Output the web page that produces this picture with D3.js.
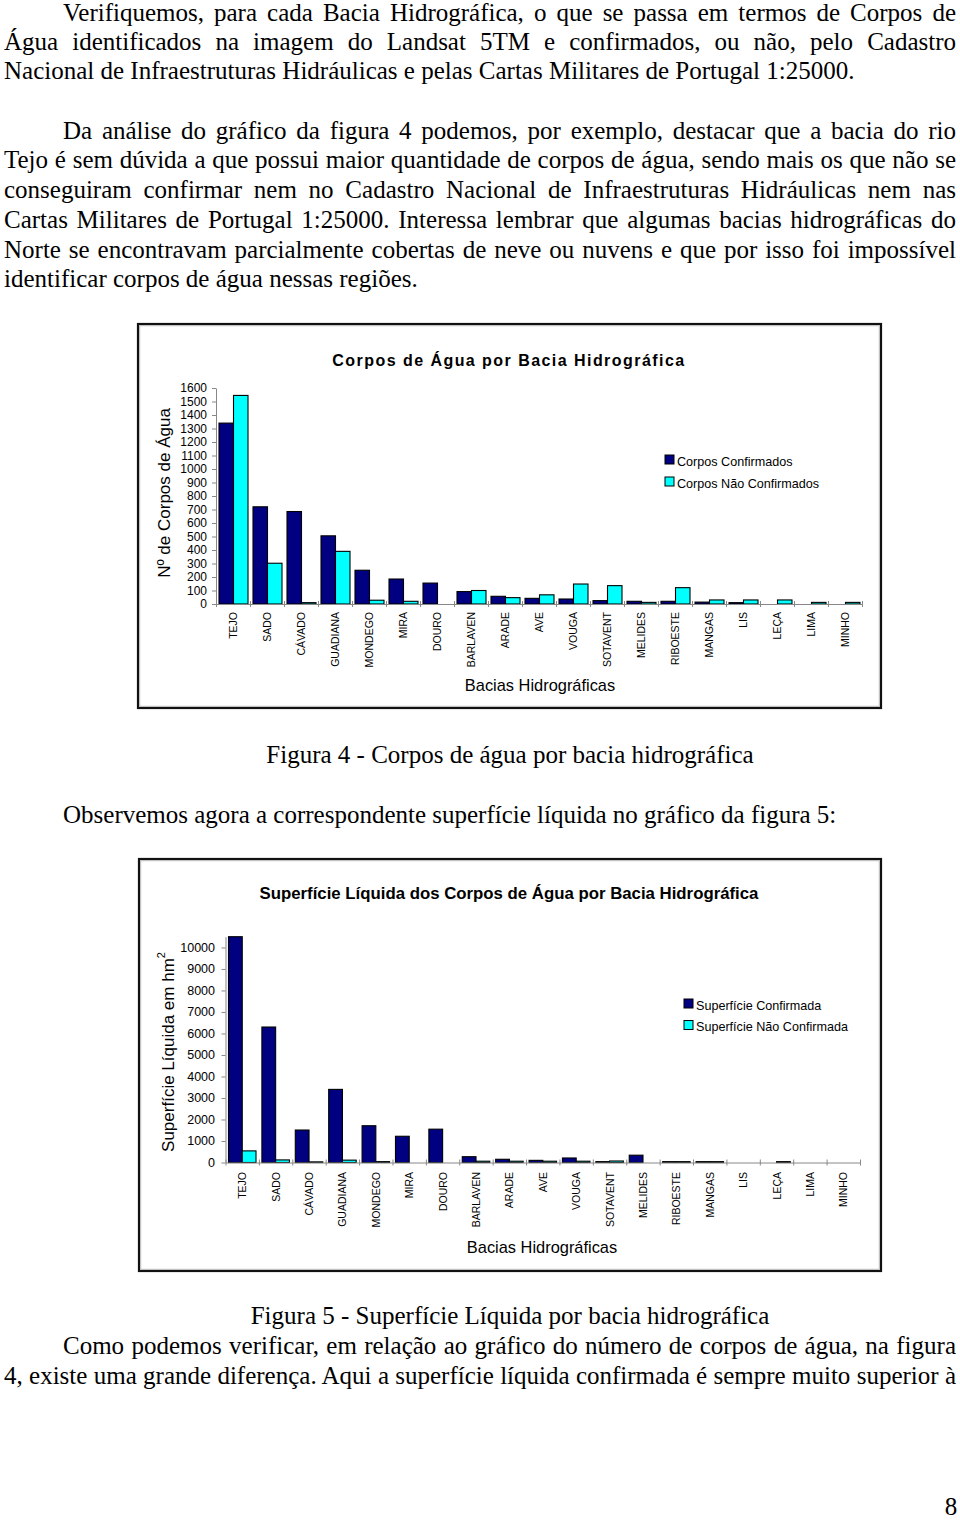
<!DOCTYPE html>
<html><head><meta charset="utf-8">
<script src="https://cdn.jsdelivr.net/npm/d3@7"></script>
<style>body{margin:0;background:#fff} svg{display:block}</style>
</head><body>
<script>
// ---------------- DATA ----------------
const categories = ["TEJO","SADO","CÁVADO","GUADIANA","MONDEGO","MIRA","DOURO","BARLAVEN","ARADE","AVE","VOUGA","SOTAVENT","MELIDES","RIBOESTE","MANGAS","LIS","LEÇA","LIMA","MINHO"];
const corposConfirmados    = [1340,720,685,505,250,185,155,92,57,42,37,25,20,20,14,10,0,0,0];
const corposNaoConfirmados = [1545,302,10,390,28,20,0,100,47,68,148,136,12,121,30,30,30,12,12];
const superficieConfirmada    = [10500,6300,1510,3400,1710,1220,1550,270,150,100,210,40,340,40,40,0,0,0,0];
const superficieNaoConfirmada = [540,120,30,110,40,0,0,60,60,60,60,70,0,40,40,0,40,0,0];
const ticksCorpos = [0,100,200,300,400,500,600,700,800,900,1000,1100,1200,1300,1400,1500,1600];
const ticksSuperficie = [0,1000,2000,3000,4000,5000,6000,7000,8000,9000,10000];

const bodyLines1 = [
  "Verifiquemos, para cada Bacia Hidrográfica, o que se passa em termos de Corpos de",
  "Água identificados na imagem do Landsat 5TM e confirmados, ou não, pelo Cadastro",
  "Nacional de Infraestruturas Hidráulicas e pelas Cartas Militares de Portugal 1:25000."
];
const bodyLines2 = [
  "Da análise do gráfico da figura 4 podemos, por exemplo, destacar que a bacia do rio",
  "Tejo é sem dúvida a que possui maior quantidade de corpos de água, sendo mais os que não se",
  "conseguiram confirmar nem no Cadastro Nacional de Infraestruturas Hidráulicas nem nas",
  "Cartas Militares de Portugal 1:25000. Interessa lembrar que algumas bacias hidrográficas do",
  "Norte se encontravam parcialmente cobertas de neve ou nuvens e que por isso foi impossível",
  "identificar corpos de água nessas regiões."
];
const caption4 = "Figura 4 - Corpos de água por bacia hidrográfica";
const lineObs = "Observemos agora a correspondente superfície líquida no gráfico da figura 5:";
const caption5 = "Figura 5 - Superfície Líquida por bacia hidrográfica";
const bodyLines3 = [
  "Como podemos verificar, em relação ao gráfico do número de corpos de água, na figura",
  "4, existe uma grande diferença. Aqui a superfície líquida confirmada é sempre muito superior à"
];

// ---------------- LAYOUT ----------------
const SERIF = "'Liberation Serif','Times New Roman',serif";
const SANS = "'Liberation Sans',Arial,sans-serif";
const FS = 25;
const NAVY = "#000080", CYAN = "#00FFFF";

const svg = d3.select("body").append("svg").attr("width",960).attr("height",1521);

function textLine(str, x, y, opts={}) {
  const t = svg.append("text").attr("x",x).attr("y",y)
    .style("font-family",SERIF).style("font-size",FS+"px").attr("fill","#000")
    .attr("text-anchor", opts.anchor || "start").text(str);
  if (opts.justifyTo) {
    const nat = t.node().getComputedTextLength();
    const spaces = (str.match(/ /g)||[]).length;
    t.style("word-spacing", ((opts.justifyTo - x - nat)/spaces) + "px");
  }
  return t;
}

// paragraph 1
const p1y = [21, 50, 79];
bodyLines1.forEach((s,i)=> textLine(s, i===0?63:4, p1y[i], {justifyTo: i<2?956:null}));
const p2y = [138.5, 168, 198, 227.5, 257.5, 287];
bodyLines2.forEach((s,i)=> textLine(s, i===0?63:4, p2y[i], {justifyTo: i<5?956:null}));
textLine(caption4, 510, 763, {anchor:"middle"});
textLine(lineObs, 63, 823);
textLine(caption5, 510, 1324, {anchor:"middle"});
const p3y = [1354, 1383.5];
bodyLines3.forEach((s,i)=> textLine(s, i===0?63:4, p3y[i], {justifyTo:956}));
textLine("8", 951, 1515, {anchor:"middle"});

// ---------------- CHARTS ----------------
function chart(o) {
  const g = svg.append("g");
  const [bx0,by0,bx1,by1] = o.box;
  g.append("rect").attr("x",bx0+1).attr("y",by0+1).attr("width",bx1-bx0-2).attr("height",by1-by0-2)
    .attr("fill","#fff").attr("stroke","#111").attr("stroke-width",2.2);
  g.append("rect").attr("x",bx0+2.7).attr("y",by0+2.7).attr("width",bx1-bx0-5.4).attr("height",by1-by0-5.4)
    .attr("fill","none").attr("stroke","#b8b8b8").attr("stroke-width",1);

  const x = d3.scaleBand().domain(categories).range(o.xr);
  const xs = d3.scaleBand().domain([0,1]).range(o.sub);
  const y = d3.scaleLinear().domain(o.ydom).range(o.yr);

  // bars
  o.series.forEach((s,i)=>{
    const data = s.values.map((v,j)=>({c:categories[j], v})).filter(d=>d.v>0);
    g.append("g").selectAll("rect").data(data).join("rect")
      .attr("x", d=>x(d.c)+xs(i)).attr("width", xs.bandwidth())
      .attr("y", d=>y(d.v)).attr("height", d=>y(0)-y(d.v))
      .attr("fill", s.color).attr("stroke","#000").attr("stroke-width",1.1);
  });

  // y axis
  const ya = g.append("g").attr("transform",`translate(${o.xr[0]},0)`)
    .call(d3.axisLeft(y).tickValues(o.ticks).tickSizeInner(4).tickSizeOuter(0).tickPadding(o.tickPad).tickFormat(d3.format("d")));
  ya.select(".domain").attr("stroke","#888");
  ya.selectAll(".tick line").attr("stroke","#888");
  ya.selectAll(".tick text").style("font-family",SANS).style("font-size",o.tickFs+"px").attr("fill","#000");

  // x axis line + boundary ticks
  const xb = d3.scaleLinear().domain([0,categories.length]).range(o.xr);
  const xa = g.append("g").attr("transform",`translate(0,${y(0)})`)
    .call(d3.axisBottom(xb).tickValues(d3.range(categories.length+1)).tickFormat("").tickSizeInner(3).tickSizeOuter(0));
  xa.select(".domain").attr("stroke","#888");
  xa.selectAll(".tick line").attr("stroke","#888").attr("y1",-3).attr("y2",3);

  // x labels
  g.append("g").selectAll("text").data(categories).join("text")
    .attr("transform", d=>`translate(${x(d)+x.bandwidth()/2+4},${y(0)+o.labelGap}) rotate(-90)`)
    .attr("text-anchor","end").style("font-family",SANS).style("font-size","10.5px").attr("fill","#000")
    .text(d=>d);

  // title
  g.append("text").attr("x",o.title.x).attr("y",o.title.y).attr("text-anchor","middle")
    .style("font-family",SANS).style("font-size",o.title.fs+"px").style("font-weight","bold")
    .style("letter-spacing", o.title.ls+"px").attr("fill","#000").text(o.title.text);

  // y title
  const yt = g.append("text").attr("transform",`translate(${o.ytitle.x},${o.ytitle.y}) rotate(-90)`)
    .attr("text-anchor","middle").style("font-family",SANS).style("font-size","17px").attr("fill","#000");
  yt.append("tspan").text(o.ytitle.text);
  if (o.ytitle.sup) yt.append("tspan").attr("dy",-9).style("font-size","11px").text(o.ytitle.sup);

  // x title
  g.append("text").attr("x",o.xtitle.x).attr("y",o.xtitle.y).attr("text-anchor","middle")
    .style("font-family",SANS).style("font-size","16.4px").attr("fill","#000").text("Bacias Hidrográficas");

  // legend
  o.series.forEach((s,i)=>{
    const ly = o.legend.y + i*o.legend.dy;
    g.append("rect").attr("x",o.legend.x).attr("y",ly).attr("width",9).attr("height",9)
      .attr("fill",s.color).attr("stroke","#000").attr("stroke-width",1);
    g.append("text").attr("x",o.legend.x+12).attr("y",ly+10.5)
      .style("font-family",SANS).style("font-size","12.6px").attr("fill","#000").text(s.name);
  });
}

chart({
  box:[137,323,882,709],
  xr:[216,862], sub:[3,32], ydom:[0,1600], yr:[604,388],
  ticks:ticksCorpos, tickPad:5, tickFs:12, labelGap:8,
  series:[{name:"Corpos Confirmados", values:corposConfirmados, color:NAVY},
          {name:"Corpos Não Confirmados", values:corposNaoConfirmados, color:CYAN}],
  title:{text:"Corpos de Água por Bacia Hidrográfica", x:509, y:366, ls:1.45, fs:16},
  ytitle:{text:"Nº de Corpos de Água", x:170, y:493},
  xtitle:{x:540, y:691},
  legend:{x:665, y:455, dy:22}
});

chart({
  box:[138,858,882,1272],
  xr:[225.5,860], sub:[3,30.5], ydom:[0,10500], yr:[1162.5,936.7],
  ticks:ticksSuperficie, tickPad:6.5, tickFs:12.5, labelGap:9.5,
  series:[{name:"Superfície Confirmada", values:superficieConfirmada, color:NAVY},
          {name:"Superfície Não Confirmada", values:superficieNaoConfirmada, color:CYAN}],
  title:{text:"Superfície Líquida dos Corpos de Água por Bacia Hidrográfica", x:509, y:899, ls:0, fs:16.8},
  ytitle:{text:"Superfície Líquida em hm", sup:"2", x:174, y:1052},
  xtitle:{x:542, y:1253},
  legend:{x:684, y:999, dy:21.5}
});
</script>
</body></html>
